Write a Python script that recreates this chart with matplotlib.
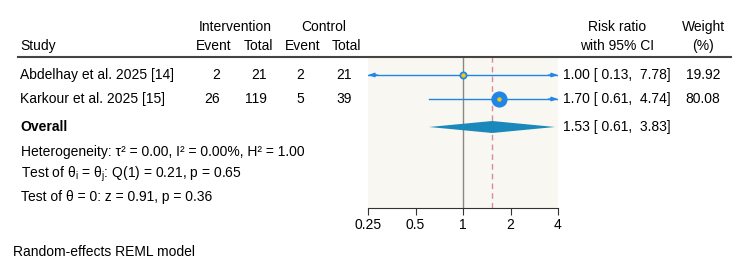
import numpy as np
import matplotlib.pyplot as plt

plt.rcParams['font.family'] = ['Liberation Sans', 'DejaVu Sans']
plt.rcParams['mathtext.fontset'] = 'custom'
plt.rcParams['mathtext.rm'] = 'Liberation Sans'
plt.rcParams['mathtext.it'] = 'Liberation Sans'

# Data
studies = ['Abdelhay et al. 2025 [14]', 'Karkour et al. 2025 [15]']
int_event = [2, 26]
int_total = [21, 119]
ctl_event = [2, 5]
ctl_total = [21, 39]
rr = [1.00, 1.70]
ci_low = [0.13, 0.61]
ci_high = [7.78, 4.74]
weight = [19.92, 80.08]
overall_rr, overall_low, overall_high = 1.53, 0.61, 3.83
xticks = [0.25, 0.5, 1, 2, 4]
xtick_labels = ['0.25', '0.5', '1', '2', '4']

blue = '#1f86e8'
yellow = '#f2c70c'
fs = 10

fig = plt.figure(figsize=(7.5, 2.7), dpi=100)

# forest panel (pixel layout: x 368-558, y 57-208; row k at 75 + 24k)
def py(r):
    return 75 + 24 * r

ax = fig.add_axes([368 / 750, (270 - 208) / 270, 190 / 750, (208 - 57) / 270])
ax.set_xscale('log', base=2)
ax.set_xlim(0.25, 4)
ax.set_ylim((208 - 75) / 24, (57 - 75) / 24)
ax.set_facecolor('#f8f7f1')
for s in ['top', 'right', 'left']:
    ax.spines[s].set_visible(False)
ax.spines['bottom'].set_color('#333333')
ax.set_yticks([])
ax.set_xticks(xticks)
ax.set_xticklabels(xtick_labels, fontsize=fs)
ax.xaxis.set_minor_locator(plt.NullLocator())
ax.tick_params(axis='x', length=5, color='#333333', pad=2)

ax.axvline(1, color='#888888', lw=1, zorder=1)
ax.axvline(overall_rr, color='#d98a9c', lw=1, ls=(0, (4, 3)), zorder=1)

arrow = dict(arrowstyle='-|>,head_length=0.35,head_width=0.12',
             color=blue, lw=1, shrinkA=0, shrinkB=0)
xmin, xmax = ax.get_xlim()
for i in range(len(studies)):
    lo, hi = ci_low[i], ci_high[i]
    left = max(lo, xmin)
    right = min(hi, xmax)
    ax.plot([left, right], [i, i], color=blue, lw=1, zorder=2)
    if hi > xmax:
        ax.annotate('', xy=(xmax, i), xytext=(xmax / 1.15, i), arrowprops=arrow, zorder=3)
    if lo < xmin:
        ax.annotate('', xy=(xmin, i), xytext=(xmin * 1.15, i), arrowprops=arrow, zorder=3)
    ax.plot(rr[i], i, 'o', color=blue, ms=1.3 * np.sqrt(weight[i]), mew=0, zorder=4)
    ax.plot(rr[i], i, 'o', color=yellow, ms=3.2, mew=0, zorder=5)

# overall diamond
yo = (127 - 75) / 24
h = 0.25
ax.fill([overall_low, overall_rr, overall_high, overall_rr],
        [yo, yo - h, yo, yo + h], color='#1a88ba', lw=0, zorder=4)

# text layer in pixel coordinates
tx = fig.add_axes([0, 0, 1, 1])
tx.set_xlim(0, 750)
tx.set_ylim(270, 0)
tx.axis('off')

tx.text(235, 27, 'Intervention', ha='center', va='center', fontsize=fs)
tx.text(324, 27, 'Control', ha='center', va='center', fontsize=fs)
tx.text(20, 46, 'Study', ha='left', va='center', fontsize=fs)
for xc, lab in [(214, 'Event'), (259, 'Total'), (303, 'Event'), (347, 'Total')]:
    tx.text(xc, 46, lab, ha='center', va='center', fontsize=fs)
tx.text(617, 27, 'Risk ratio', ha='center', va='center', fontsize=fs)
tx.text(617, 46, 'with 95% CI', ha='center', va='center', fontsize=fs)
tx.text(703, 27, 'Weight', ha='center', va='center', fontsize=fs)
tx.text(703, 46, '(%)', ha='center', va='center', fontsize=fs)
tx.plot([18, 731], [57, 57], color='#444444', lw=1.5)

for i, name in enumerate(studies):
    y = py(i)
    tx.text(20, y, name, ha='left', va='center', fontsize=fs)
    tx.text(220, y, str(int_event[i]), ha='right', va='center', fontsize=fs)
    tx.text(267, y, str(int_total[i]), ha='right', va='center', fontsize=fs)
    tx.text(304, y, str(ctl_event[i]), ha='right', va='center', fontsize=fs)
    tx.text(352, y, str(ctl_total[i]), ha='right', va='center', fontsize=fs)
    tx.text(563, y, f'{rr[i]:.2f} [ {ci_low[i]:.2f},  {ci_high[i]:.2f}]',
            ha='left', va='center', fontsize=fs)
    tx.text(703, y, f'{weight[i]:.2f}', ha='center', va='center', fontsize=fs)

tx.text(20, 127, 'Overall', ha='left', va='center', fontsize=fs, fontweight='bold')
tx.text(563, 127, f'{overall_rr:.2f} [ {overall_low:.2f},  {overall_high:.2f}]',
        ha='left', va='center', fontsize=fs)
tx.text(21, 152, 'Heterogeneity: τ² = 0.00, I² = 0.00%, H² = 1.00',
        ha='left', va='center', fontsize=fs)
tx.text(21, 174, r'Test of θ$_\mathrm{i}$ = θ$_\mathrm{j}$: Q(1) = 0.21, p = 0.65',
        ha='left', va='center', fontsize=fs)
tx.text(21, 197, 'Test of θ = 0: z = 0.91, p = 0.36',
        ha='left', va='center', fontsize=fs)
tx.text(13, 252, 'Random-effects REML model', ha='left', va='center', fontsize=fs)

fig.savefig('out.png', dpi=100)
plt.close()
